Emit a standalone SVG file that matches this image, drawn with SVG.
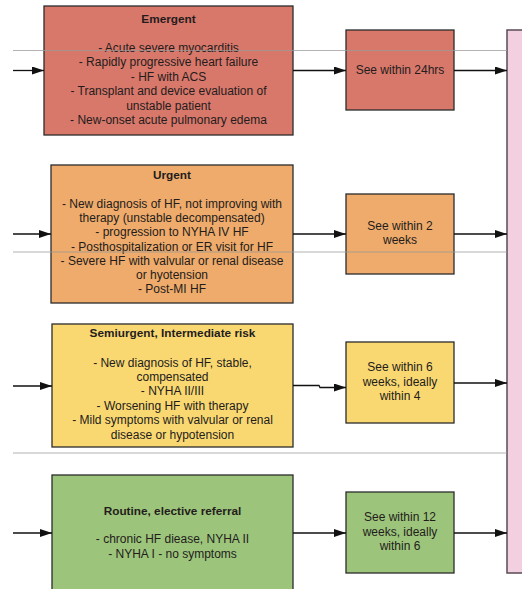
<svg xmlns="http://www.w3.org/2000/svg" width="522" height="589" viewBox="0 0 522 589">
  <style>
    .box { stroke: #2b2b2b; stroke-width: 1.3; }
    .emergent { fill: #d8786b; }
    .urgent { fill: #eeab6b; }
    .semi { fill: #f9d872; }
    .routine { fill: #9cc57b; }
    .outcome { fill: #f3d0e0; stroke: #5a4b56; stroke-width: 1.5; }
    .sep { stroke: #9a9a9a; stroke-width: 1.2; fill: none; opacity: 0.75; }
    .link { stroke: #111; stroke-width: 1.3; fill: none; marker-end: url(#arrow); }
    text { font-family: "Liberation Sans", Arial, sans-serif; font-size: 12px; fill: #241c1c; text-anchor: middle; }
    .title { font-weight: bold; font-size: 11.8px; }
  </style>
  <defs>
    <marker id="arrow" viewBox="0 0 12 8" refX="12" refY="4" markerWidth="12" markerHeight="8" markerUnits="userSpaceOnUse" orient="auto">
      <path d="M0,0 L12,4 L0,8 Z" fill="#111"/>
    </marker>
  </defs>

  <rect x="0" y="0" width="522" height="589" fill="#ffffff"/>

  <!-- outcome panel on the right -->
  <g id="outcome">
    <rect class="outcome" x="507" y="30" width="30" height="543"/>
  </g>

  <!-- Emergent tier -->
  <g id="emergent">
    <rect class="box emergent" x="44" y="6" width="249" height="129"/>
    <text class="title" x="168.5" y="23">Emergent</text>
    <text x="168.5" y="51.5">- Acute severe myocarditis</text>
    <text x="168.5" y="66">- Rapidly progressive heart failure</text>
    <text x="168.5" y="80.5">- HF with ACS</text>
    <text x="168.5" y="95">- Transplant and device evaluation of</text>
    <text x="168.5" y="109.5">unstable patient</text>
    <text x="168.5" y="124">- New-onset acute pulmonary edema</text>
  </g>
  <g id="emergent-wait">
    <rect class="box emergent" x="346" y="30" width="108" height="80"/>
    <text x="400" y="73.5">See within 24hrs</text>
  </g>

  <!-- Urgent tier -->
  <g id="urgent">
    <rect class="box urgent" x="51" y="165" width="242" height="138"/>
    <text class="title" x="172" y="179">Urgent</text>
    <text x="172" y="208">- New diagnosis of HF, not improving with</text>
    <text x="172" y="222">therapy (unstable decompensated)</text>
    <text x="172" y="236">- progression to NYHA IV HF</text>
    <text x="172" y="251">- Posthospitalization or ER visit for HF</text>
    <text x="172" y="265">- Severe HF with valvular or renal disease</text>
    <text x="172" y="279">or hyotension</text>
    <text x="172" y="293">- Post-MI HF</text>
  </g>
  <g id="urgent-wait">
    <rect class="box urgent" x="346" y="194" width="108" height="80"/>
    <text x="400" y="230">See within 2</text>
    <text x="400" y="244">weeks</text>
  </g>

  <!-- Semiurgent tier -->
  <g id="semiurgent">
    <rect class="box semi" x="52" y="324" width="241" height="123"/>
    <text class="title" x="172.5" y="337">Semiurgent, Intermediate risk</text>
    <text x="172.5" y="367">- New diagnosis of HF, stable,</text>
    <text x="172.5" y="381">compensated</text>
    <text x="172.5" y="395">- NYHA II/III</text>
    <text x="172.5" y="410">- Worsening HF with therapy</text>
    <text x="172.5" y="424">- Mild symptoms with valvular or renal</text>
    <text x="172.5" y="439">disease or hypotension</text>
  </g>
  <g id="semiurgent-wait">
    <rect class="box semi" x="346" y="342" width="108" height="81"/>
    <text x="400" y="371">See within 6</text>
    <text x="400" y="386">weeks, ideally</text>
    <text x="400" y="400">within 4</text>
  </g>

  <!-- Routine tier -->
  <g id="routine">
    <rect class="box routine" x="52" y="475" width="241" height="120"/>
    <text class="title" x="172.5" y="515">Routine, elective referral</text>
    <text x="172.5" y="543">- chronic HF diease, NYHA II</text>
    <text x="172.5" y="558">- NYHA I - no symptoms</text>
  </g>
  <g id="routine-wait">
    <rect class="box routine" x="346" y="492" width="108" height="81"/>
    <text x="400" y="521">See within 12</text>
    <text x="400" y="536">weeks, ideally</text>
    <text x="400" y="550">within 6</text>
  </g>

  <!-- connectors -->
  <g id="connectors">
    <path class="link" d="M13,70.5 H44"/>
    <path class="link" d="M293,70.5 H346"/>
    <path class="link" d="M454,70.5 H507"/>

    <path class="link" d="M13,234 H51"/>
    <path class="link" d="M293,234 H346"/>
    <path class="link" d="M454,234 H507"/>

    <path class="link" d="M13,386 H52"/>
    <path class="link" d="M293,385.5 H319 L320,387.5 H346"/>
    <path class="link" d="M454,383 H507"/>

    <path class="link" d="M13,533 H52"/>
    <path class="link" d="M293,533 H346"/>
    <path class="link" d="M454,533 H507"/>
  </g>

  <!-- tier separators -->
  <g id="separators">
    <path class="sep" d="M13,50.5 H507"/>
    <path class="sep" d="M13,252 H507"/>
    <path class="sep" d="M13,453 H507"/>
  </g>
</svg>
